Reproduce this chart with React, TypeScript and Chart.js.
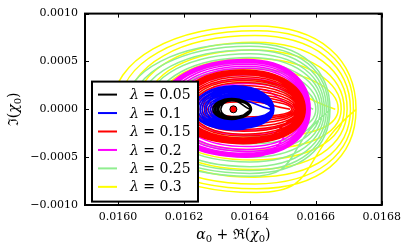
import React, { useEffect, useRef } from "react";
import { Chart, registerables } from "chart.js";

Chart.register(...registerables);

const xTickValues = [0.016, 0.0162, 0.0164, 0.0166, 0.0168];
const yTickValues = [-0.001, -0.0005, 0, 0.0005, 0.001];
const lambdaValues = ["0.05", "0.1", "0.15", "0.2", "0.25", "0.3"];
const lineColors = ["#000000", "#0000ff", "#ff0000", "#ff00ff", "#90ee90", "#ffff00"];

// each loop: right turning point, top, left turning point, bottom
const orbit005 = [
  [0.0164, 0], [0.016345, 0.000089], [0.016312, 0], [0.016345, -0.000077],
  [0.016401, 0], [0.016345, 0.000094], [0.016306, 0], [0.016345, -0.000083],
  [0.016402, 0], [0.016345, 0.000099], [0.016302, 0], [0.016345, -0.000089],
  [0.016403, 0], [0.016345, 0.000104], [0.016297, 0], [0.016345, -0.000095],
  [0.016404, 0], [0.016345, 0.000109], [0.016293, 0], [0.016345, -0.000101],
  [0.016405, 0], [0.016345, 0.000114], [0.016288, 0], [0.016345, -0.000107],
  [0.016405, 0],
];

const orbit010 = [
  [0.016463, 0], [0.016355, 0.000095], [0.0163, 0], [0.016355, -0.0001],
  [0.016464, 0], [0.016355, 0.000109], [0.016294, 0], [0.016355, -0.00011],
  [0.016465, 0], [0.016355, 0.000122], [0.016287, 0], [0.016355, -0.000121],
  [0.016466, 0], [0.016355, 0.000136], [0.016281, 0], [0.016355, -0.000131],
  [0.016467, 0], [0.016355, 0.00015], [0.016275, 0], [0.016355, -0.000141],
  [0.016467, 0], [0.016355, 0.000163], [0.016268, 0], [0.016355, -0.000152],
  [0.016468, 0], [0.016355, 0.000177], [0.016262, 0], [0.016355, -0.000162],
  [0.016469, 0], [0.016355, 0.00019], [0.016255, 0], [0.016355, -0.000172],
  [0.01647, 0], [0.016355, 0.000204], [0.016249, 0], [0.016355, -0.000183],
  [0.016471, 0], [0.016355, 0.000218], [0.016243, 0], [0.016355, -0.000193],
  [0.016472, 0], [0.016355, 0.000231], [0.016236, 0], [0.016355, -0.000204],
  [0.016473, 0], [0.016355, 0.000245], [0.01623, 0], [0.016355, -0.000214],
  [0.016473, 0],
];

const orbit015 = [
  [0.016522, 0], [0.01638, 0.00008], [0.01628, 0], [0.01638, -0.00008],
  [0.016527, 0], [0.01638, 0.0001], [0.016272, 0], [0.01638, -0.0001],
  [0.016532, 0], [0.01638, 0.00013], [0.016264, 0], [0.01638, -0.00012],
  [0.016537, 0], [0.01638, 0.00016], [0.016256, 0], [0.01638, -0.00015],
  [0.016541, 0], [0.01638, 0.00019], [0.016249, 0], [0.01638, -0.00018],
  [0.016545, 0], [0.01638, 0.00022], [0.016242, 0], [0.01638, -0.00021],
  [0.016547, 0], [0.01638, 0.00025], [0.016235, 0], [0.01638, -0.00023],
  [0.016549, 0], [0.01638, 0.00028], [0.016228, 0], [0.01638, -0.00026],
  [0.016551, 0], [0.01638, 0.0003], [0.016221, 0], [0.01638, -0.00028],
  [0.016553, 0], [0.01638, 0.00032], [0.016214, 0], [0.01638, -0.0003],
  [0.016555, 0], [0.01638, 0.00034], [0.016208, 0], [0.01638, -0.00031],
  [0.016557, 0], [0.01638, 0.00036], [0.016202, 0], [0.01638, -0.00032],
  [0.016559, 0], [0.01638, 0.00037], [0.016196, 0], [0.01638, -0.00033],
  [0.016561, 0], [0.01638, 0.00038], [0.016191, 0], [0.01638, -0.00034],
  [0.016563, 0], [0.01638, 0.00039], [0.016186, 0], [0.01638, -0.00035],
  [0.016565, 0], [0.01638, 0.0004], [0.016183, 0], [0.01638, -0.000355],
  [0.016568, 0], [0.01638, 0.00041], [0.01618, 0], [0.01638, -0.00036],
  [0.016568, 0],
];

const orbit020 = [
  [0.01655, 0], [0.01639, 0.00022], [0.01624, 0], [0.01639, -0.00022],
  [0.016553, 0], [0.01639, 0.00027], [0.016225, 0], [0.01639, -0.00027],
  [0.016556, 0], [0.01639, 0.00032], [0.01621, 0], [0.01639, -0.00031],
  [0.016559, 0], [0.01639, 0.00036], [0.016196, 0], [0.01639, -0.00035],
  [0.016562, 0], [0.01639, 0.0004], [0.016183, 0], [0.01639, -0.00039],
  [0.016565, 0], [0.01639, 0.00043], [0.016171, 0], [0.01639, -0.00042],
  [0.016568, 0], [0.01639, 0.00045], [0.01616, 0], [0.01639, -0.00044],
  [0.016571, 0], [0.01639, 0.00047], [0.01615, 0], [0.01639, -0.00046],
  [0.016574, 0], [0.01639, 0.00049], [0.016142, 0], [0.01639, -0.00047],
  [0.016577, 0], [0.01639, 0.0005], [0.016135, 0], [0.01639, -0.00048],
  [0.01658, 0], [0.01639, 0.00051], [0.01613, 0], [0.01639, -0.00049],
  [0.016583, 0], [0.01639, 0.00052], [0.016126, 0], [0.01639, -0.0005],
  [0.016583, 0],
];

const orbit025 = [
  [0.016592, 0], [0.0164, 0.00028], [0.01622, 0], [0.0164, -0.00028],
  [0.0166, 0], [0.0164, 0.00036], [0.01619, 0], [0.0164, -0.00036],
  [0.016607, 0], [0.0164, 0.00043], [0.01616, 0], [0.0164, -0.00044],
  [0.016614, 0], [0.0164, 0.00049], [0.016135, 0], [0.0164, -0.0005],
  [0.01662, 0], [0.0164, 0.00054], [0.01611, 0], [0.0164, -0.00055],
  [0.016626, 0], [0.0164, 0.00058], [0.016088, 0], [0.0164, -0.0006],
  [0.016632, 0], [0.0164, 0.00062], [0.016065, 0], [0.0164, -0.00064],
  [0.016638, 0], [0.0164, 0.00066], [0.016042, 0], [0.0164, -0.00067],
  [0.016643, 0], [0.0164, 0.00069], [0.01602, 0], [0.0164, -0.0007],
  [0.016643, 0],
];

const orbit030 = [
  [0.016659, 0], [0.0164, 0.0003], [0.0162, 0], [0.0164, -0.0003],
  [0.016668, 0], [0.016405, 0.00042], [0.01616, 0], [0.016405, -0.00042],
  [0.016677, 0], [0.01641, 0.00053], [0.01612, 0], [0.01641, -0.00053],
  [0.016686, 0], [0.01641, 0.00062], [0.016085, 0], [0.01641, -0.00063],
  [0.016695, 0], [0.016415, 0.0007], [0.016055, 0], [0.016415, -0.00071],
  [0.016705, 0], [0.016415, 0.00077], [0.016028, 0], [0.016415, -0.00078],
  [0.016714, 0], [0.01642, 0.00082], [0.016003, 0], [0.01642, -0.00083],
  [0.016722, 0], [0.01642, 0.00087], [0.015981, 0], [0.01642, -0.00087],
  [0.016722, 0],
];

const centerPoint = [[0.01635, 0]];

const FONT = "'DejaVu Serif', 'Liberation Serif', serif";

type Part = { t: string; italic?: boolean; sub?: boolean };

function richWidth(ctx: CanvasRenderingContext2D, parts: Part[], size: number) {
  let w = 0;
  for (const p of parts) {
    ctx.font = `${p.italic ? "italic " : ""}${p.sub ? Math.round(size * 0.7) : size}px ${FONT}`;
    w += ctx.measureText(p.t).width;
  }
  return w;
}

function drawRich(ctx: CanvasRenderingContext2D, parts: Part[], x: number, y: number, size: number) {
  let cx = x;
  ctx.textBaseline = "middle";
  ctx.textAlign = "left";
  for (const p of parts) {
    ctx.font = `${p.italic ? "italic " : ""}${p.sub ? Math.round(size * 0.7) : size}px ${FONT}`;
    ctx.fillText(p.t, cx, p.sub ? y + size * 0.28 : y);
    cx += ctx.measureText(p.t).width;
  }
}

export default function App() {
  const ref = useRef<HTMLCanvasElement>(null);

  useEffect(() => {
    const canvas = ref.current;
    if (!canvas) return;
    const orbits = [orbit005, orbit010, orbit015, orbit020, orbit025, orbit030];
    const tensions = [0.55, 0.58, 0.6, 0.6, 0.6, 0.6];
    const toXY = (pts: number[][]) => pts.map(([x, y]) => ({ x, y }));

    const datasets: any[] = [
      {
        data: toXY(centerPoint),
        showLine: false,
        pointRadius: 3.5,
        pointBackgroundColor: "#ff0000",
        pointBorderColor: "#000000",
        pointBorderWidth: 1,
      },
      ...orbits.map((o, i) => ({
        data: toXY(o),
        showLine: true,
        borderColor: lineColors[i],
        borderWidth: 1.5,
        pointRadius: 0,
        tension: tensions[i],
        fill: false,
      })),
    ];

    const overlay = {
      id: "overlay",
      afterDraw(chart: any) {
        const { ctx, chartArea: a, scales } = chart;
        ctx.save();
        ctx.strokeStyle = "#000";
        ctx.lineWidth = 1;
        const tl = 4;
        for (const v of xTickValues) {
          const px = Math.round(scales.x.getPixelForValue(v)) + 0.5;
          ctx.beginPath();
          ctx.moveTo(px, a.bottom);
          ctx.lineTo(px, a.bottom - tl);
          ctx.moveTo(px, a.top);
          ctx.lineTo(px, a.top + tl);
          ctx.stroke();
        }
        for (const v of yTickValues) {
          const py = Math.round(scales.y.getPixelForValue(v)) + 0.5;
          ctx.beginPath();
          ctx.moveTo(a.left, py);
          ctx.lineTo(a.left + tl, py);
          ctx.moveTo(a.right, py);
          ctx.lineTo(a.right - tl, py);
          ctx.stroke();
        }
        ctx.lineWidth = 2;
        ctx.strokeRect(a.left, a.top, a.right - a.left, a.bottom - a.top);

        // legend
        const bx = a.left + 7;
        const by = a.top + 68;
        const bw = 106;
        const bh = 120;
        ctx.fillStyle = "#ffffff";
        ctx.fillRect(bx, by, bw, bh);
        ctx.lineWidth = 2;
        ctx.strokeStyle = "#000";
        ctx.strokeRect(bx, by, bw, bh);
        lambdaValues.forEach((val, i) => {
          const ry = by + 13 + i * 18.45;
          ctx.strokeStyle = lineColors[i];
          ctx.lineWidth = 2;
          ctx.beginPath();
          ctx.moveTo(bx + 6, ry);
          ctx.lineTo(bx + 25, ry);
          ctx.stroke();
          ctx.fillStyle = "#000";
          drawRich(ctx, [{ t: "λ", italic: true }, { t: " = " + val }], bx + 38, ry + 1, 14);
        });

        // axis titles
        ctx.fillStyle = "#000";
        const xParts: Part[] = [
          { t: "α", italic: true }, { t: "0", sub: true }, { t: " + ℜ(" },
          { t: "χ", italic: true }, { t: "0", sub: true }, { t: ")" },
        ];
        const xw = richWidth(ctx, xParts, 14);
        drawRich(ctx, xParts, (a.left + a.right) / 2 - xw / 2, 235, 14);

        const yParts: Part[] = [
          { t: "ℑ(" }, { t: "χ", italic: true }, { t: "0", sub: true }, { t: ")" },
        ];
        const yw = richWidth(ctx, yParts, 14);
        ctx.translate(14, (a.top + a.bottom) / 2);
        ctx.rotate(-Math.PI / 2);
        drawRich(ctx, yParts, -yw / 2, 0, 14);
        ctx.restore();
      },
    };

    const chart = new Chart(canvas, {
      type: "scatter",
      data: { datasets },
      options: {
        responsive: false,
        animation: false,
        devicePixelRatio: 1,
        layout: { padding: { top: 9, right: 23, left: 0, bottom: 0 } },
        plugins: { legend: { display: false }, tooltip: { enabled: false } },
        scales: {
          x: {
            type: "linear",
            min: 0.0159,
            max: 0.0168,
            afterBuildTicks: (s: any) => {
              s.ticks = xTickValues.map((v) => ({ value: v }));
            },
            afterFit: (s: any) => {
              s.height = 47;
            },
            grid: { display: false, drawTicks: false },
            border: { display: false },
            ticks: {
              autoSkip: false,
              maxRotation: 0,
              padding: 6,
              color: "#000",
              font: { family: FONT, size: 11 },
              callback: (v: any) => Number(v).toFixed(4),
            },
          },
          y: {
            type: "linear",
            min: -0.001,
            max: 0.001,
            afterBuildTicks: (s: any) => {
              s.ticks = yTickValues.map((v) => ({ value: v }));
            },
            afterFit: (s: any) => {
              s.width = 85;
            },
            grid: { display: false, drawTicks: false },
            border: { display: false },
            ticks: {
              autoSkip: false,
              padding: 7,
              color: "#000",
              font: { family: FONT, size: 11 },
              callback: (v: any) => (Number(v) < 0 ? "\u2212" : "") + Math.abs(Number(v)).toFixed(4),
            },
          },
        },
      },
      plugins: [overlay],
    } as any);

    return () => chart.destroy();
  }, []);

  return (
    <div style={{ position: "fixed", left: 0, top: 0, width: 407, height: 252, background: "#ffffff" }}>
      <canvas ref={ref} width={407} height={252} style={{ display: "block" }} />
    </div>
  );
}
